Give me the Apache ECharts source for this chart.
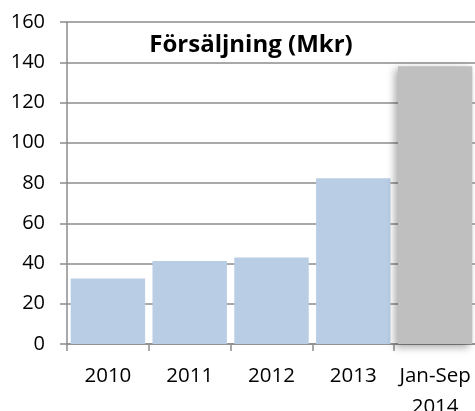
<!DOCTYPE html>
<html><head><meta charset="utf-8">
<script src="https://cdn.jsdelivr.net/npm/echarts@6/dist/echarts.min.js"></script>
<style>html,body{margin:0;padding:0;background:#fff}#c{width:475px;height:411px}</style>
</head><body><div id="c"></div>
<script>
const categories = ['2010', '2011', '2012', '2013', 'Jan-Sep\n2014'];
const sales = [32.6, 41.3, 43.0, 82.4, 138];
const yTicks = { min: 0, max: 160, interval: 20 };
const titleText = 'Försäljning (Mkr)';

const chart = echarts.init(document.getElementById('c'), null, { renderer: 'canvas' });
const font = 'Open Sans';
chart.setOption({
  animation: false,
  title: { text: titleText, left: 251, top: 33, textAlign: 'center', padding: 0,
    textStyle: { fontFamily: font, fontWeight: 'bold', fontSize: 24, lineHeight: 24, color: '#000' } },
  grid: { left: 67, right: -1, top: 22, bottom: 67, containLabel: false, outerBoundsMode: 'none' },
  xAxis: {
    type: 'category', data: categories, boundaryGap: true,
    axisLine: { lineStyle: { color: '#8c8c8c', width: 1.5 } },
    axisTick: { show: true, length: 7, alignWithLabel: false, lineStyle: { color: '#8c8c8c', width: 1.5 } },
    axisLabel: { fontFamily: font, fontSize: 20.5, color: '#000', margin: 17, lineHeight: 31, interval: 0 }
  },
  yAxis: {
    type: 'value', min: yTicks.min, max: yTicks.max, interval: yTicks.interval,
    axisLine: { show: true, lineStyle: { color: '#8c8c8c', width: 1.5 } },
    axisTick: { show: true, length: 7, lineStyle: { color: '#8c8c8c', width: 1.5 } },
    axisLabel: { fontFamily: font, fontSize: 20, color: '#000', margin: 22 },
    splitLine: { show: true, lineStyle: { color: '#8c8c8c', width: 1.5 } }
  },
  series: [{
    type: 'bar', data: sales.map((v, i) => i === 4 ? {
      value: v, itemStyle: { color: '#bfbfbf', shadowBlur: 8, shadowColor: 'rgba(0,0,0,0.35)', shadowOffsetX: -3, shadowOffsetY: 3 }
    } : v),
    barCategoryGap: '9%',
    itemStyle: { color: '#b9cde5' }
  }]
});
</script></body></html>
